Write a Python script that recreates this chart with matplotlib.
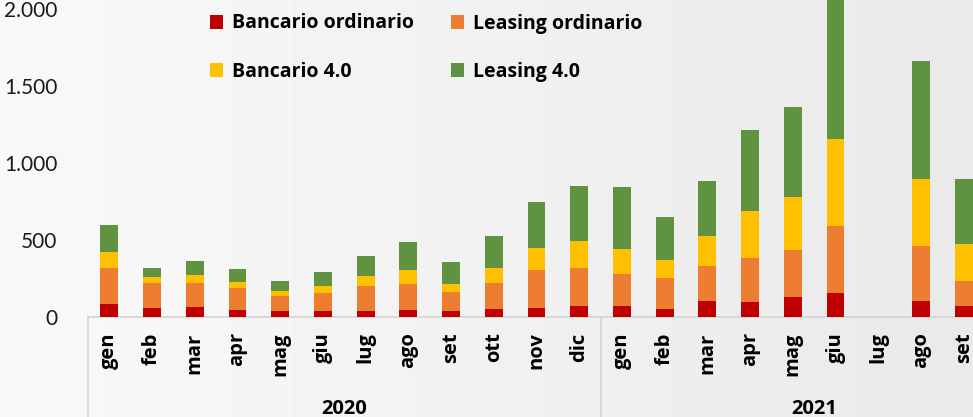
import matplotlib.pyplot as plt
import numpy as np
from matplotlib.ticker import FuncFormatter

plt.rcParams['font.family'] = ['Open Sans', 'DejaVu Sans']

months = ['gen', 'feb', 'mar', 'apr', 'mag', 'giu', 'lug', 'ago', 'set', 'ott', 'nov', 'dic',
          'gen', 'feb', 'mar', 'apr', 'mag', 'giu', 'lug', 'ago', 'set']
years = ['2020', '2021']

bancario_ord = [86, 57, 68, 47, 36, 40, 42, 44, 38, 49, 57, 70,
                70, 49, 106, 96, 131, 155, 0, 103, 70]
leasing_ord = [231, 165, 151, 140, 99, 115, 158, 172, 123, 170, 247, 247,
               208, 203, 224, 284, 305, 438, 0, 355, 162]
bancario_40 = [108, 36, 52, 43, 31, 48, 69, 86, 55, 102, 143, 175,
               165, 117, 199, 307, 346, 560, 0, 436, 239]
leasing_40 = [175, 61, 91, 83, 66, 86, 130, 182, 138, 208, 301, 360,
              400, 282, 356, 524, 579, 1000, 0, 765, 423]

series = [
    ('Bancario ordinario', bancario_ord, '#C00000'),
    ('Leasing ordinario', leasing_ord, '#ED7D31'),
    ('Bancario 4.0', bancario_40, '#FFC000'),
    ('Leasing 4.0', leasing_40, '#5F9341'),
]

W, H = 973, 417
fig = plt.figure(figsize=(W / 100, H / 100), dpi=100)

# light grey backdrop
bg = fig.add_axes([0, 0, 1, 1], zorder=-10)
grad = np.linspace(0.975, 0.915, 256)[None, :] * np.ones((16, 1))
bg.imshow(grad, cmap='gray', vmin=0, vmax=1, aspect='auto', extent=[0, 1, 0, 1])
bg.set_axis_off()

ax = fig.add_axes([88 / W, 100 / H, (985 - 88) / W, 317 / H])
ax.patch.set_alpha(0)

x = np.arange(len(months))
bottom = np.zeros(len(months))
handles = []
for name, vals, col in series:
    v = np.array(vals, dtype=float)
    b = ax.bar(x, v, 0.42, bottom=bottom, color=col, label=name, zorder=3)
    handles.append(b)
    bottom += v

ax.set_xlim(-0.5, len(months) - 0.5)
ax.set_ylim(0, 2058)
ax.set_yticks([0, 500, 1000, 1500, 2000])
ax.yaxis.set_major_formatter(FuncFormatter(lambda v, p: f'{int(v):,}'.replace(',', '.')))
ax.tick_params(axis='y', length=0, pad=22, labelcolor='#1a1a1a')
for t in ax.get_yticklabels():
    t.set_fontfamily(['Lato', 'DejaVu Sans'])
    t.set_fontsize(15)
ax.set_xticks(x)
ax.set_xticklabels(months, rotation=90, fontweight='bold', fontsize=14.5)
ax.tick_params(axis='x', length=0, pad=11)

for s in ['top', 'right', 'left']:
    ax.spines[s].set_visible(False)
ax.spines['bottom'].set_color('#d4d4d4')
ax.spines['bottom'].set_linewidth(1.2)

# year separators and labels
trans = ax.get_xaxis_transform()
for xs in [-0.5, 11.5, 20.5]:
    ax.plot([xs, xs], [0, -0.35], transform=trans, color='#d4d4d4', lw=1.2, clip_on=False)
ax.text(5.5, -0.29, years[0], transform=trans, ha='center', va='center',
        fontweight='bold', fontsize=14.5)
ax.text(16.5, -0.29, years[1], transform=trans, ha='center', va='center',
        fontweight='bold', fontsize=14.5)

# legend laid out row by row like the original
order = [0, 2, 1, 3]
leg = fig.legend(handles=[handles[i] for i in order], loc='upper left',
                 bbox_to_anchor=(192 / W, 1 + 4 / H),
                 ncol=2, frameon=False, handlelength=0.7, handleheight=0.7,
                 handletextpad=0.45, columnspacing=1.9, labelspacing=1.45,
                 prop={'weight': 'bold', 'size': 14})

fig.savefig('out.png', dpi=100)
